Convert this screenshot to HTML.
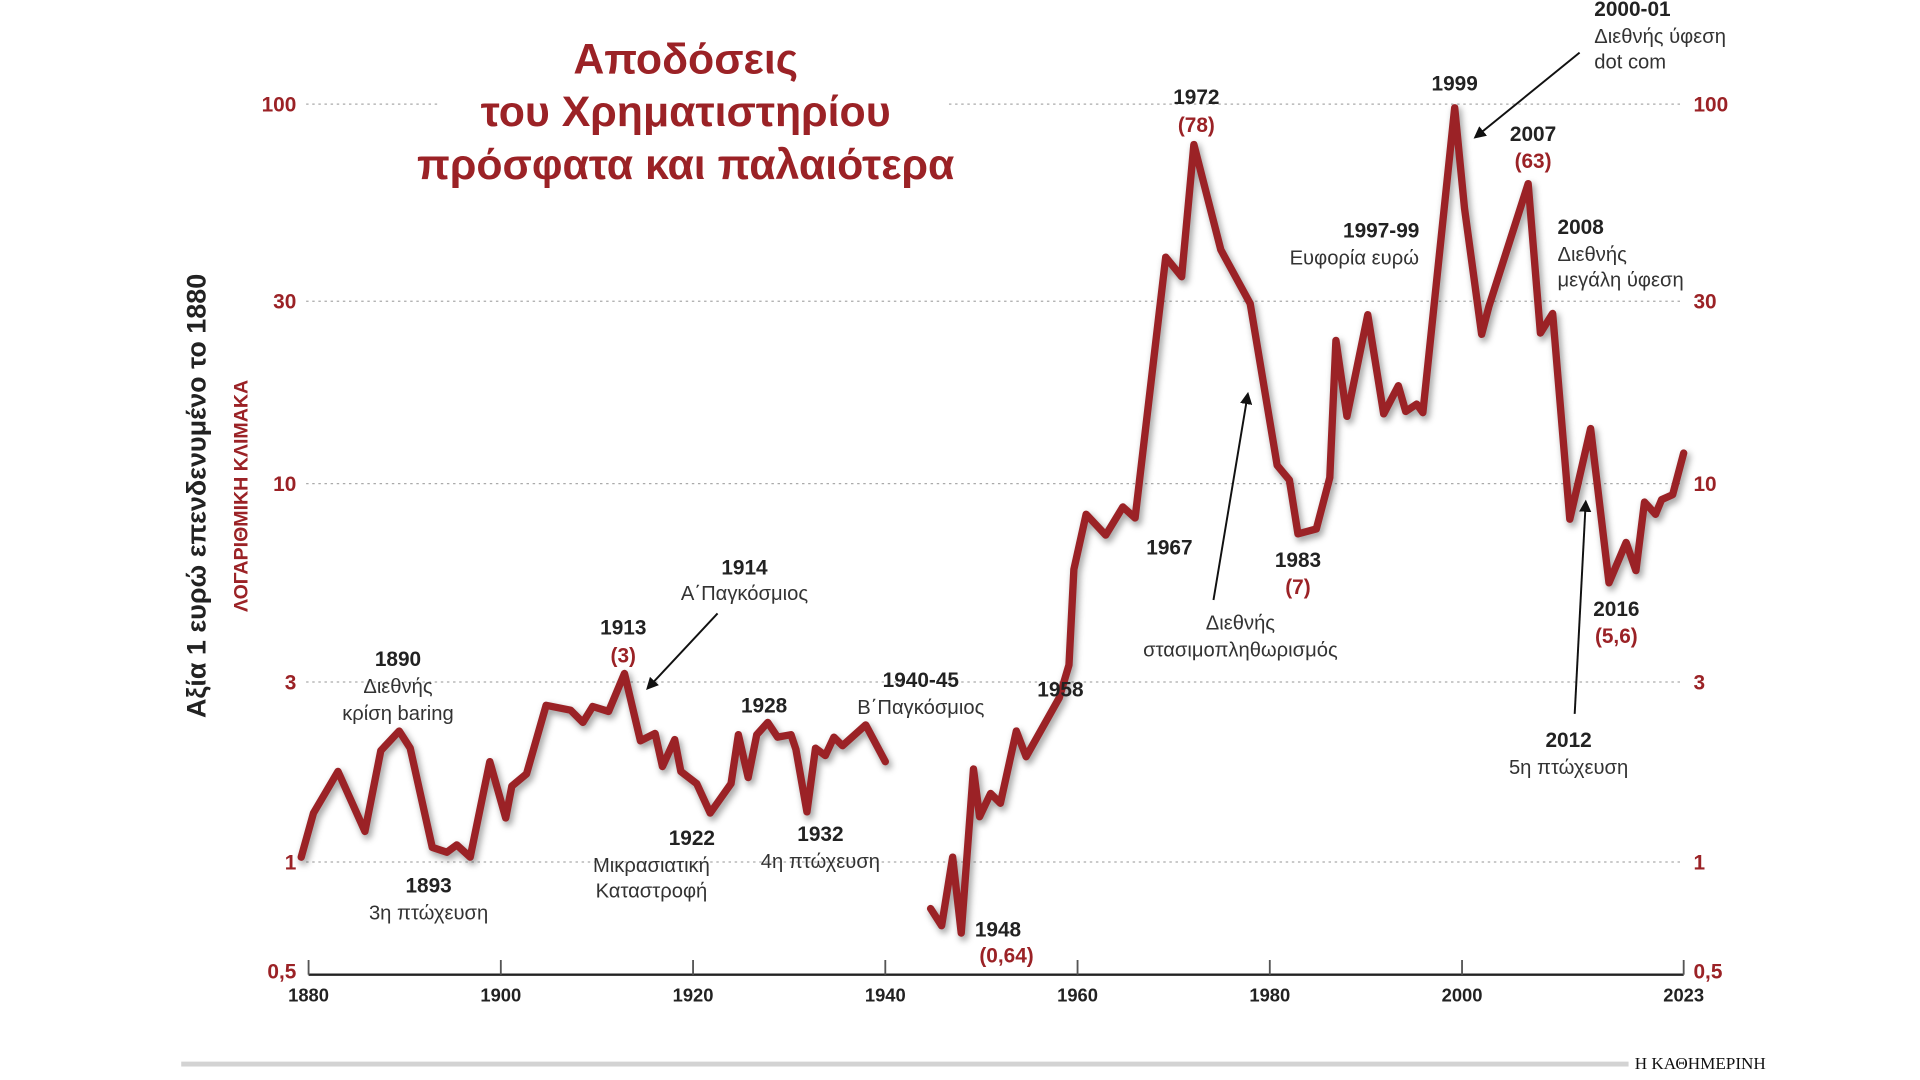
<!DOCTYPE html>
<html><head><meta charset="utf-8"><style>
html,body{margin:0;padding:0;background:#fff;}
svg{display:block;}
text{font-family:"Liberation Sans","DejaVu Sans",sans-serif;}
.b{font-weight:bold;fill:#222;font-size:17px;}
.n{fill:#333;font-size:16.5px;}
.r{font-weight:bold;fill:#9b2226;font-size:17px;}
.ax{font-weight:bold;fill:#9b2226;font-size:17px;}
.xl{font-weight:bold;fill:#222;font-size:15px;}
</style></head><body>
<svg width="1920" height="1080" viewBox="0 0 1568 882" xmlns="http://www.w3.org/2000/svg">
<defs>
<marker id="ar" markerWidth="10" markerHeight="10" refX="8" refY="5" orient="auto" markerUnits="userSpaceOnUse"><path d="M0,0 L10,5 L0,10 z" fill="#111"/></marker>
<filter id="sh" x="-5%" y="-5%" width="110%" height="110%"><feGaussianBlur stdDeviation="2.5"/></filter>
</defs>
<g stroke="#aaa" stroke-width="1" stroke-dasharray="2,3">
<line x1="250" y1="85" x2="360" y2="85"/><line x1="775" y1="85" x2="1375" y2="85"/>
<line x1="250" y1="246" x2="1375" y2="246"/>
<line x1="250" y1="395" x2="1375" y2="395"/>
<line x1="250" y1="557" x2="1375" y2="557"/>
<line x1="250" y1="704" x2="1375" y2="704"/>
</g>
<g class="ax" text-anchor="end">
<text x="242" y="91">100</text><text x="242" y="252">30</text><text x="242" y="401">10</text><text x="242" y="563">3</text><text x="242" y="710">1</text><text x="242" y="799">0,5</text>
</g>
<g class="ax">
<text x="1383" y="91">100</text><text x="1383" y="252">30</text><text x="1383" y="401">10</text><text x="1383" y="563">3</text><text x="1383" y="710">1</text><text x="1383" y="799">0,5</text>
</g>
<line x1="252" y1="796" x2="1375" y2="796" stroke="#222" stroke-width="2"/>
<g stroke="#555" stroke-width="1.5">
<line x1="252" y1="784" x2="252" y2="796"/><line x1="409" y1="784" x2="409" y2="796"/><line x1="566" y1="784" x2="566" y2="796"/><line x1="723" y1="784" x2="723" y2="796"/><line x1="880" y1="784" x2="880" y2="796"/><line x1="1037" y1="784" x2="1037" y2="796"/><line x1="1194" y1="784" x2="1194" y2="796"/><line x1="1375" y1="784" x2="1375" y2="796"/>
</g>
<g class="xl" text-anchor="middle">
<text x="252" y="818">1880</text><text x="409" y="818">1900</text><text x="566" y="818">1920</text><text x="723" y="818">1940</text><text x="880" y="818">1960</text><text x="1037" y="818">1980</text><text x="1194" y="818">2000</text><text x="1375" y="818">2023</text>
</g>
<text transform="translate(168,405) rotate(-90)" text-anchor="middle" style="font-size:22px;font-weight:bold;fill:#222">Αξία 1 ευρώ επενδενυμένο το 1880</text>
<text transform="translate(202,405) rotate(-90)" text-anchor="middle" style="font-size:16px;font-weight:bold;fill:#9b2226">ΛΟΓΑΡΙΘΜΙΚΗ ΚΛΙΜΑΚΑ</text>
<g text-anchor="middle" style="font-size:35px;font-weight:bold;fill:#9b2226">
<text x="560" y="60">Αποδόσεις</text><text x="560" y="103">του Χρηματιστηρίου</text><text x="560" y="146">πρόσφατα και παλαιότερα</text>
</g>
<g fill="none" stroke-linejoin="round" stroke-linecap="round">
<g stroke="#000" stroke-opacity="0.35" stroke-width="7" filter="url(#sh)" transform="translate(2,3)">
<polyline points="246,700 256,664 276,630 298,679 311,613 326,597 335,611 353,692 365,696 373,690 384,700 400,622 413,668 418,642 430,632 446,576 466,580 476,590 484,577 497,581 510,550 523,605 535,599 541,626 551,604 556,630 569,640 580,664 597,640 603,600 611,635 618,600 627,590 635,602 646,600 650,612 659,663 666,611 674,617 681,602 688,609 707,592 723,622"/>
<polyline points="760,742 769,756 778,700 785,762 795,628 800,667 809,648 817,656 830,597 838,618 865,570 873,543 877,465 887,420 903,437 917,414 927,423 952,210 965,226 975,118 997,204 1021,248 1043,380 1053,392 1060,436 1075,432 1086,390 1091,278 1100,340 1117,257 1130,338 1142,315 1148,336 1157,330 1162,337 1188,88 1196,170 1210,273 1216,250 1248,150 1258,272 1268,256 1282,424 1299,350 1314,476 1328,443 1336,466 1343,410 1352,420 1357,408 1366,404 1375,370"/>
</g>
<g stroke="#9b2226" stroke-width="6">
<polyline points="246,700 256,664 276,630 298,679 311,613 326,597 335,611 353,692 365,696 373,690 384,700 400,622 413,668 418,642 430,632 446,576 466,580 476,590 484,577 497,581 510,550 523,605 535,599 541,626 551,604 556,630 569,640 580,664 597,640 603,600 611,635 618,600 627,590 635,602 646,600 650,612 659,663 666,611 674,617 681,602 688,609 707,592 723,622"/>
<polyline points="760,742 769,756 778,700 785,762 795,628 800,667 809,648 817,656 830,597 838,618 865,570 873,543 877,465 887,420 903,437 917,414 927,423 952,210 965,226 975,118 997,204 1021,248 1043,380 1053,392 1060,436 1075,432 1086,390 1091,278 1100,340 1117,257 1130,338 1142,315 1148,336 1157,330 1162,337 1188,88 1196,170 1210,273 1216,250 1248,150 1258,272 1268,256 1282,424 1299,350 1314,476 1328,443 1336,466 1343,410 1352,420 1357,408 1366,404 1375,370"/>
</g>
</g>
<g stroke="#111" stroke-width="1.6" fill="none">
<line x1="586" y1="501" x2="529" y2="562" marker-end="url(#ar)"/>
<line x1="991" y1="490" x2="1019" y2="322" marker-end="url(#ar)"/>
<line x1="1290" y1="43" x2="1205" y2="112" marker-end="url(#ar)"/>
<line x1="1286" y1="583" x2="1295" y2="410" marker-end="url(#ar)"/>
</g>
<g text-anchor="middle">
<text class="b" x="325" y="544">1890</text><text class="n" x="325" y="566">Διεθνής</text><text class="n" x="325" y="588">κρίση baring</text>
<text class="b" x="350" y="729">1893</text><text class="n" x="350" y="751">3η πτώχευση</text>
<text class="b" x="509" y="518">1913</text><text class="r" x="509" y="541">(3)</text>
<text class="b" x="608" y="469">1914</text><text class="n" x="608" y="490">Α΄Παγκόσμιος</text>
<text class="b" x="565" y="690">1922</text><text class="n" x="532" y="712">Μικρασιατική</text><text class="n" x="532" y="733">Καταστροφή</text>
<text class="b" x="624" y="582">1928</text>
<text class="b" x="670" y="687">1932</text><text class="n" x="670" y="709">4η πτώχευση</text>
<text class="b" x="752" y="561">1940-45</text><text class="n" x="752" y="583">Β΄Παγκόσμιος</text>
<text class="b" x="815" y="765">1948</text><text class="r" x="822" y="786">(0,64)</text>
<text class="b" x="866" y="569">1958</text>
<text class="b" x="955" y="453">1967</text>
<text class="b" x="977" y="85">1972</text><text class="r" x="977" y="108">(78)</text>
<text class="n" x="1013" y="514">Διεθνής</text><text class="n" x="1013" y="536">στασιμοπληθωρισμός</text>
<text class="b" x="1060" y="463">1983</text><text class="r" x="1060" y="485">(7)</text>
<text class="b" x="1128" y="194">1997-99</text><text class="n" x="1106" y="216">Ευφορία ευρώ</text>
<text class="b" x="1188" y="74">1999</text>
<text class="b" x="1252" y="115">2007</text><text class="r" x="1252" y="137">(63)</text>
<text class="b" x="1320" y="503">2016</text><text class="r" x="1320" y="525">(5,6)</text>
<text class="b" x="1281" y="610">2012</text><text class="n" x="1281" y="632">5η πτώχευση</text>
</g>
<g>
<text class="b" x="1302" y="13">2000-01</text><text class="n" x="1302" y="35">Διεθνής ύφεση</text><text class="n" x="1302" y="56">dot com</text>
<text class="b" x="1272" y="191">2008</text><text class="n" x="1272" y="213">Διεθνής</text><text class="n" x="1272" y="234">μεγάλη ύφεση</text>
</g>
<rect x="148" y="867" width="1182" height="4" fill="#d3d3d3"/>
<text x="1335" y="873" style="font-family:'Liberation Serif',serif;font-size:14px;fill:#111">Η ΚΑΘΗΜΕΡΙΝΗ</text>
</svg>
</body></html>
